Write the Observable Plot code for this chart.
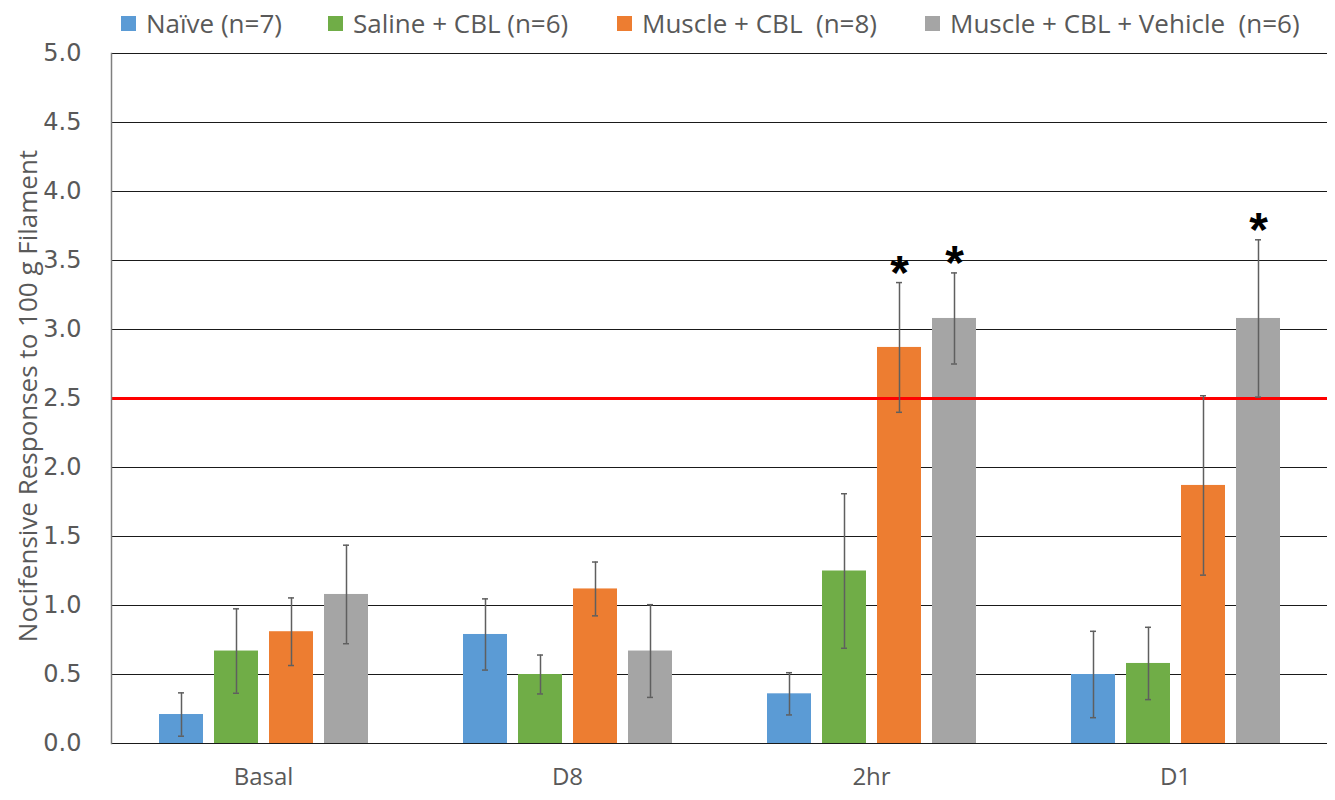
<!DOCTYPE html>
<html>
<head>
<meta charset="utf-8">
<script src="https://cdn.jsdelivr.net/npm/d3@7"></script>
<script src="https://cdn.jsdelivr.net/npm/@observablehq/plot@0.6"></script>
<style>
  html, body { margin: 0; padding: 0; background: #fff; }
  #wrap { position: relative; width: 1335px; height: 800px; }
  #legend { position: relative; height: 30px; width: 1335px; font-family: "Liberation Sans Narrow", "Open Sans", sans-serif; font-size: 26px; line-height: 34px; color: #595959; }
  .item { position: absolute; top: 6px; display: flex; align-items: center; white-space: pre; }
  .sw { width: 15px; height: 15px; margin-right: 10px; }
  #ytitle { position: absolute; left: 27px; top: 396px; transform: translate(-50%, -50%) rotate(-90deg); white-space: nowrap; font-family: "Liberation Sans Narrow", "Open Sans", sans-serif; font-size: 26px; color: #595959; }
</style>
</head>
<body>
<div id="wrap">
  <div id="legend"></div>
  <div id="chart"></div>
  <div id="ytitle">Nocifensive Responses to 100 g Filament</div>
</div>
<script>
const categories = ["Basal", "D8", "2hr", "D1"];
const seriesNames = ["Naïve (n=7)", "Saline + CBL (n=6)", "Muscle + CBL  (n=8)", "Muscle + CBL + Vehicle  (n=6)"];
const colors = ["#5B9BD5", "#70AD47", "#ED7D31", "#A5A5A5"];

const naive = [0.21, 0.79, 0.36, 0.50];
const saline = [0.67, 0.50, 1.25, 0.58];
const muscle = [0.81, 1.12, 2.87, 1.87];
const vehicle = [1.08, 0.67, 3.08, 3.08];

const naiveErr = [0.157, 0.258, 0.153, 0.313];
const salineErr = [0.306, 0.141, 0.56, 0.262];
const muscleErr = [0.245, 0.195, 0.47, 0.65];
const vehicleErr = [0.357, 0.336, 0.33, 0.57];

const yTicks = [0, 0.5, 1, 1.5, 2, 2.5, 3, 3.5, 4, 4.5, 5];
const threshold = [2.5];
// significance markers: [category, series index]
const stars = [["2hr", 2], ["2hr", 3], ["D1", 3]];

const values = [naive, saline, muscle, vehicle];
const errs = [naiveErr, salineErr, muscleErr, vehicleErr];
const rows = [];
categories.forEach((c, i) => {
  seriesNames.forEach((s, j) => {
    rows.push({cat: c, s, v: values[j][i], e: errs[j][i]});
  });
});
const starRows = stars.map(([c, j]) => {
  const i = categories.indexOf(c);
  return {cat: c, s: seriesNames[j], top: values[j][i] + errs[j][i]};
});

// legend
const legendLeft = [121, 328, 617, 925];
const legend = document.getElementById("legend");
seriesNames.forEach((s, j) => {
  const it = document.createElement("div");
  it.className = "item";
  it.style.left = legendLeft[j] + "px";
  it.innerHTML = `<span class="sw" style="background:${colors[j]}"></span><span></span>`;
  it.lastChild.textContent = s;
  legend.appendChild(it);
});

const plot = Plot.plot({
  width: 1335,
  height: 770,
  marginTop: 23,
  marginBottom: 57,
  marginLeft: 110,
  marginRight: 7,
  style: {fontFamily: "DejaVu Sans, sans-serif", color: "#595959", background: "#fff"},
  fx: {domain: categories, padding: 0, label: null},
  x: {domain: seriesNames, paddingInner: 0.2, paddingOuter: 0.853, axis: null},
  y: {domain: [0, 5], label: null, axis: null},
  color: {domain: seriesNames, range: colors},
  marks: [
    Plot.ruleY(yTicks, {stroke: "#1a1a1a", strokeWidth: 1.2}),
    Plot.barY(rows, {fx: "cat", x: "s", y: "v", fill: "s"}),
    Plot.ruleY(threshold, {stroke: "#FF0000", strokeWidth: 3}),
    Plot.ruleX(rows, {fx: "cat", x: "s", y1: d => d.v - d.e, y2: d => d.v + d.e, stroke: "#5f5f5f", strokeWidth: 1.5}),
    Plot.tickY(rows, {fx: "cat", x: "s", y: d => d.v - d.e, stroke: "#5f5f5f", strokeWidth: 1.5, inset: 19}),
    Plot.tickY(rows, {fx: "cat", x: "s", y: d => d.v + d.e, stroke: "#5f5f5f", strokeWidth: 1.5, inset: 19}),
    Plot.text(starRows, {fx: "cat", x: "s", y: "top", text: () => "*", fontSize: 48, fontWeight: "bold", fill: "#000", fontFamily: "Liberation Sans, Arial, sans-serif", dy: -9}),
    Plot.frame({anchor: "left", stroke: "#7f7f7f", strokeWidth: 1.5, facetAnchor: "left"}),
    Plot.axisY({ticks: yTicks, tickSize: 0, tickPadding: 30, tickFormat: d3.format(".1f"), fontSize: 24, fill: "#595959", label: null}),
    Plot.axisFx({anchor: "bottom", tickSize: 0, tickPadding: 24, fontSize: 24, fill: "#595959", fontFamily: "Liberation Sans Narrow, Open Sans, sans-serif", label: null})
  ]
});
document.getElementById("chart").appendChild(plot);
</script>
</body>
</html>
